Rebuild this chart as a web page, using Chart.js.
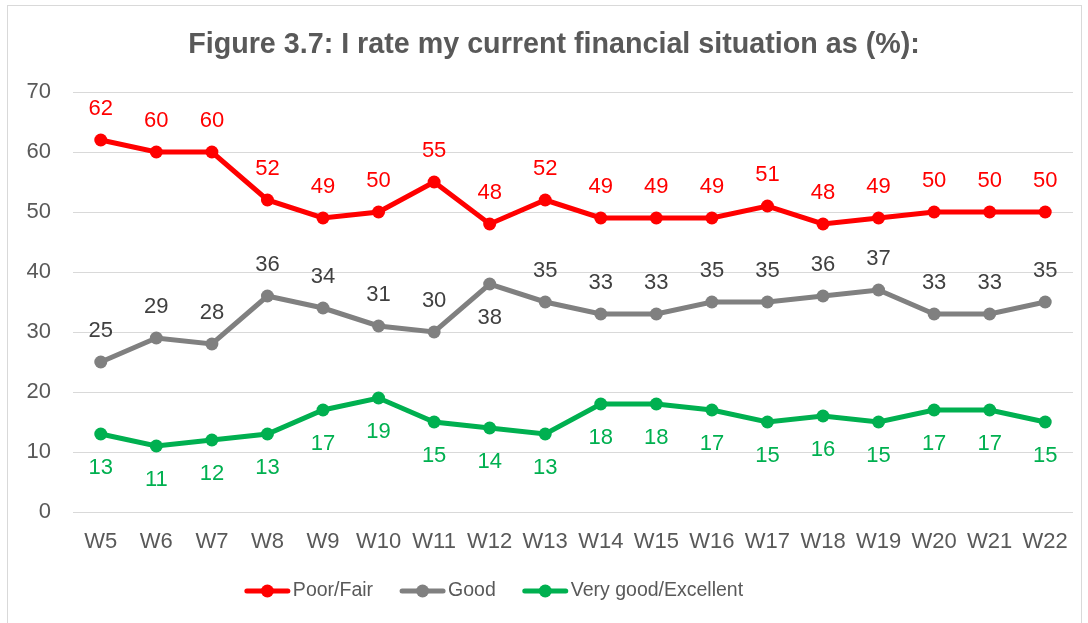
<!DOCTYPE html>
<html>
<head>
<meta charset="utf-8">
<script src="https://cdn.jsdelivr.net/npm/chart.js@4/dist/chart.umd.min.js"></script>
<style>
  html, body { margin: 0; padding: 0; background: #fff; }
  #wrap { position: relative; width: 1088px; height: 623px; overflow: hidden; }
  #frame { position: absolute; left: 7px; top: 5px; width: 1073px; height: 700px; border: 1px solid #d9d9d9; }
  #chart { position: absolute; left: 0; top: 0; }
</style>
</head>
<body>
<div id="wrap">
  <div id="frame"></div>
  <canvas id="chart" width="1088" height="623"></canvas>
</div>
<script>
const waves = ['W5','W6','W7','W8','W9','W10','W11','W12','W13','W14','W15','W16','W17','W18','W19','W20','W21','W22'];
const poorFair = [62,60,60,52,49,50,55,48,52,49,49,49,51,48,49,50,50,50];
const good = [25,29,28,36,34,31,30,38,35,33,33,35,35,36,37,33,33,35];
const veryGood = [13,11,12,13,17,19,15,14,13,18,18,17,15,16,15,17,17,15];
const yTicks = [0,10,20,30,40,50,60,70];
const titleText = 'Figure 3.7: I rate my current financial situation as (%):';

const FONT = "'Liberation Sans', Arial, sans-serif";
const RED = '#ff0000', GREY = '#808080', GREEN = '#00b050';

// value labels: above or below each point
const labelPos = [
  { color: RED, where: () => 'above' },
  { color: '#404040', where: i => (i === 7 ? 'below' : 'above') },
  { color: GREEN, where: () => 'below' }
];

const valueLabels = {
  id: 'valueLabels',
  afterDatasetsDraw(chart){
    const ctx = chart.ctx;
    ctx.save();
    ctx.font = '22px ' + FONT;
    ctx.textAlign = 'center';
    ctx.textBaseline = 'middle';
    chart.data.datasets.forEach((ds, d) => {
      const meta = chart.getDatasetMeta(d);
      meta.data.forEach((pt, i) => {
        const dy = labelPos[d].where(i) === 'above' ? -31 : 34;
        ctx.fillStyle = labelPos[d].color;
        ctx.fillText(String(ds.data[i]), pt.x, pt.y + dy);
      });
    });
    ctx.restore();
  }
};

// heading, sits a little right of the canvas centre
const heading = {
  id: 'heading',
  afterDraw(chart){
    const ctx = chart.ctx;
    ctx.save();
    ctx.font = 'bold 28.7px ' + FONT;
    ctx.fillStyle = '#595959';
    ctx.textAlign = 'center';
    ctx.textBaseline = 'middle';
    ctx.fillText(titleText, 554, 45);
    ctx.restore();
  }
};

// legend row: line + dot swatch, then the series name
const lineLegend = {
  id: 'lineLegend',
  afterDraw(chart){
    const ctx = chart.ctx;
    const sw = 45, gapText = 3, gapItem = 27, cy = 591, midX = 494;
    ctx.save();
    ctx.font = '19.5px ' + FONT;
    const items = chart.data.datasets.map(ds => ({ ds, w: ctx.measureText(ds.label).width }));
    const total = items.reduce((a, it) => a + sw + gapText + it.w, 0) + gapItem * (items.length - 1);
    let x = midX - total / 2;
    items.forEach(it => {
      const c = it.ds.borderColor;
      ctx.strokeStyle = c; ctx.lineWidth = 5; ctx.lineCap = 'round';
      ctx.beginPath(); ctx.moveTo(x + 2, cy); ctx.lineTo(x + sw - 2, cy); ctx.stroke();
      ctx.fillStyle = c;
      ctx.beginPath(); ctx.arc(x + sw / 2, cy, 6.5, 0, Math.PI * 2); ctx.fill();
      ctx.fillStyle = '#595959';
      ctx.textAlign = 'left'; ctx.textBaseline = 'middle';
      ctx.fillText(it.ds.label, x + sw + gapText, cy);
      x += sw + gapText + it.w + gapItem;
    });
    ctx.restore();
  }
};

function series(label, data, color){
  return {
    label: label,
    data: data,
    borderColor: color,
    backgroundColor: color,
    borderWidth: 5,
    pointRadius: 6.5,
    pointBorderWidth: 0,
    pointBackgroundColor: color,
    pointStyle: 'circle',
    tension: 0,
    fill: false
  };
}

const chart = new Chart(document.getElementById('chart').getContext('2d'), {
  type: 'line',
  data: {
    labels: waves,
    datasets: [
      series('Poor/Fair', poorFair, RED),
      series('Good', good, GREY),
      series('Very good/Excellent', veryGood, GREEN)
    ]
  },
  options: {
    responsive: false,
    animation: false,
    devicePixelRatio: 1,
    layout: { padding: { left: 0, right: 15, top: 92, bottom: 0 } },
    plugins: {
      title: { display: false },
      legend: { display: false },
      tooltip: { enabled: false }
    },
    scales: {
      x: {
        type: 'category',
        offset: true,
        grid: { display: false, drawTicks: false },
        border: { display: false },
        ticks: { color: '#595959', font: { family: FONT, size: 22 }, padding: 17, maxRotation: 0, autoSkip: false },
        afterFit(s){ s.height = 111; }
      },
      y: {
        min: 0,
        max: 70,
        afterBuildTicks(s){ s.ticks = yTicks.map(v => ({ value: v })); },
        grid: { color: '#d9d9d9', lineWidth: 1, drawTicks: false },
        border: { display: false },
        ticks: { color: '#595959', font: { family: FONT, size: 22 }, padding: 22 },
        afterFit(s){ s.width = 73; }
      }
    }
  },
  plugins: [valueLabels, heading, lineLegend]
});
</script>
</body>
</html>
